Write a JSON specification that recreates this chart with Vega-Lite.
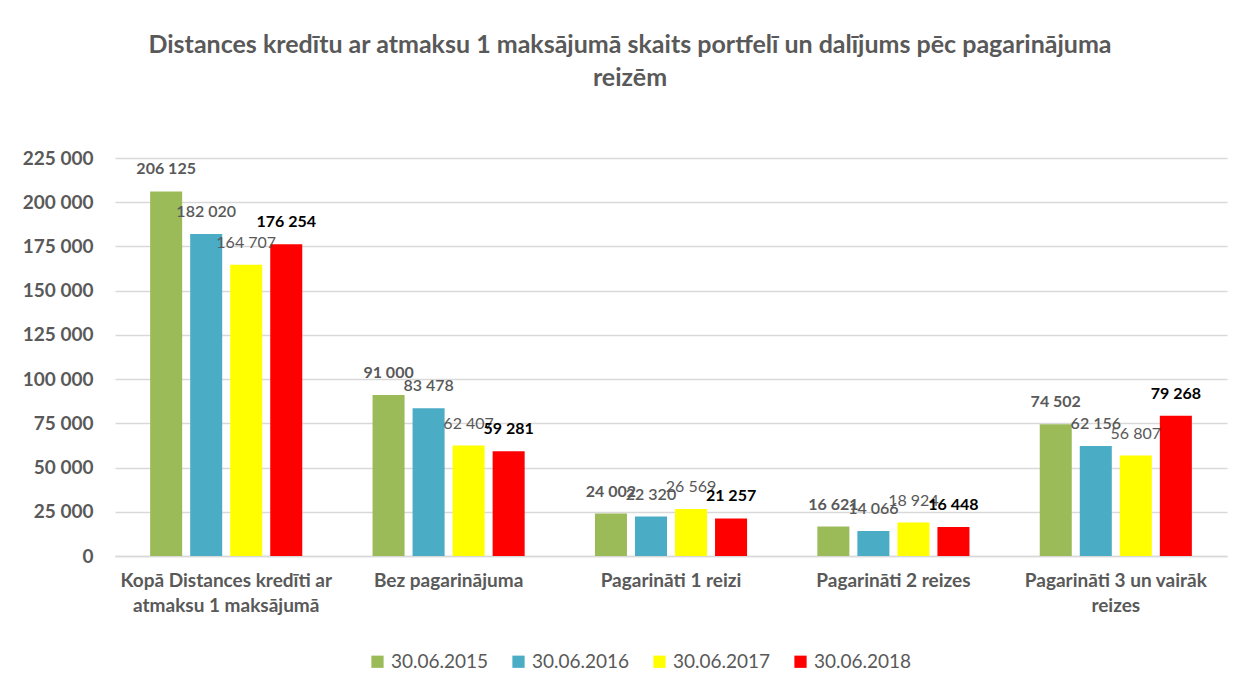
{
  "$schema": "https://vega.github.io/schema/vega-lite/v6.json",
  "width": 1112,
  "height": 398,
  "autosize": {"type": "none"},
  "padding": {"left": 115, "top": 158, "right": 23, "bottom": 135},
  "background": "white",
  "config": {"view": {"stroke": null}, "font": "Lato"},
  "title": {
    "text": ["Distances kredītu ar atmaksu 1 maksājumā skaits portfelī  un dalījums pēc pagarinājuma", "reizēm"],
    "font": "Lato", "fontSize": 25, "fontWeight": "bold", "color": "#595959",
    "lineHeight": 33, "offset": 58, "dx": -41, "anchor": "middle"
  },
  "data": {"values": [
    {"category": "Kopā Distances kredīti ar atmaksu 1 maksājumā", "series": "30.06.2015", "value": 206125},
    {"category": "Kopā Distances kredīti ar atmaksu 1 maksājumā", "series": "30.06.2016", "value": 182020},
    {"category": "Kopā Distances kredīti ar atmaksu 1 maksājumā", "series": "30.06.2017", "value": 164707},
    {"category": "Kopā Distances kredīti ar atmaksu 1 maksājumā", "series": "30.06.2018", "value": 176254},
    {"category": "Bez pagarinājuma", "series": "30.06.2015", "value": 91000},
    {"category": "Bez pagarinājuma", "series": "30.06.2016", "value": 83478},
    {"category": "Bez pagarinājuma", "series": "30.06.2017", "value": 62407},
    {"category": "Bez pagarinājuma", "series": "30.06.2018", "value": 59281},
    {"category": "Pagarināti 1 reizi", "series": "30.06.2015", "value": 24002},
    {"category": "Pagarināti 1 reizi", "series": "30.06.2016", "value": 22320},
    {"category": "Pagarināti 1 reizi", "series": "30.06.2017", "value": 26569},
    {"category": "Pagarināti 1 reizi", "series": "30.06.2018", "value": 21257},
    {"category": "Pagarināti 2 reizes", "series": "30.06.2015", "value": 16621},
    {"category": "Pagarināti 2 reizes", "series": "30.06.2016", "value": 14066},
    {"category": "Pagarināti 2 reizes", "series": "30.06.2017", "value": 18924},
    {"category": "Pagarināti 2 reizes", "series": "30.06.2018", "value": 16448},
    {"category": "Pagarināti 3 un vairāk reizes", "series": "30.06.2015", "value": 74502},
    {"category": "Pagarināti 3 un vairāk reizes", "series": "30.06.2016", "value": 62156},
    {"category": "Pagarināti 3 un vairāk reizes", "series": "30.06.2017", "value": 56807},
    {"category": "Pagarināti 3 un vairāk reizes", "series": "30.06.2018", "value": 79268}
  ]},
  "transform": [{"calculate": "replace(format(datum.value, ','), ',', ' ')", "as": "label"}],
  "encoding": {
    "x": {
      "field": "category", "type": "nominal",
      "scale": {
        "domain": ["Kopā Distances kredīti ar atmaksu 1 maksājumā", "Bez pagarinājuma", "Pagarināti 1 reizi", "Pagarināti 2 reizes", "Pagarināti 3 un vairāk reizes"],
        "paddingInner": 0.28, "paddingOuter": 0.14
      },
      "axis": {
        "title": null, "labelAngle": 0, "ticks": false,
        "domainColor": "#D9D9D9", "domainWidth": 1.5,
        "labelFont": "Lato", "labelFontSize": 19, "labelFontWeight": "bold", "labelColor": "#595959",
        "labelLineHeight": 25, "labelPadding": 15, "labelLimit": 400,
        "labelExpr": "datum.label == 'Kopā Distances kredīti ar atmaksu 1 maksājumā' ? ['Kopā Distances kredīti ar', 'atmaksu 1 maksājumā'] : datum.label == 'Pagarināti 3 un vairāk reizes' ? ['Pagarināti 3 un vairāk', 'reizes'] : datum.label"
      }
    },
    "xOffset": {
      "field": "series", "type": "nominal",
      "scale": {"domain": ["30.06.2015", "30.06.2016", "30.06.2017", "30.06.2018"], "paddingInner": 0.2, "paddingOuter": 0.1}
    },
    "y": {
      "field": "value", "type": "quantitative",
      "scale": {"domain": [0, 225000], "nice": false},
      "axis": {
        "title": null, "values": [0, 25000, 50000, 75000, 100000, 125000, 150000, 175000, 200000, 225000],
        "labelExpr": "replace(format(datum.value, ','), ',', ' ')",
        "domain": false, "ticks": false,
        "gridColor": "#D9D9D9", "gridWidth": 1.5,
        "labelFont": "Lato", "labelFontSize": 19, "labelFontWeight": "bold", "labelColor": "#595959",
        "labelPadding": 22
      }
    }
  },
  "layer": [
    {
      "mark": {"type": "bar"},
      "encoding": {
        "color": {
          "field": "series", "type": "nominal",
          "scale": {"domain": ["30.06.2015", "30.06.2016", "30.06.2017", "30.06.2018"], "range": ["#9BBB59", "#4BACC6", "#FFFF00", "#FF0000"]},
          "legend": {
            "title": null, "orient": "none", "direction": "horizontal",
            "legendX": 253, "legendY": 494,
            "symbolType": "square", "symbolSize": 150, "symbolStrokeWidth": 0,
            "labelFont": "Lato", "labelFontSize": 19, "labelColor": "#595959",
            "labelOffset": 4, "columnPadding": 20
          }
        }
      }
    },
    {
      "transform": [{"filter": "datum.series == '30.06.2015'"}],
      "mark": {"type": "text", "baseline": "middle", "dy": -22, "font": "Lato", "fontSize": 16, "fontWeight": "bold", "color": "#595959"},
      "encoding": {"text": {"field": "label"}}
    },
    {
      "transform": [{"filter": "datum.series == '30.06.2016'"}],
      "mark": {"type": "text", "baseline": "middle", "dy": -22, "font": "Lato", "fontSize": 16, "fontWeight": 600, "color": "#595959"},
      "encoding": {"text": {"field": "label"}}
    },
    {
      "transform": [{"filter": "datum.series == '30.06.2017'"}],
      "mark": {"type": "text", "baseline": "middle", "dy": -22, "font": "Lato", "fontSize": 16, "fontWeight": "normal", "color": "#595959"},
      "encoding": {"text": {"field": "label"}}
    },
    {
      "transform": [{"filter": "datum.series == '30.06.2018'"}],
      "mark": {"type": "text", "baseline": "middle", "dy": -22, "font": "Lato", "fontSize": 16, "fontWeight": "bold", "color": "#000000"},
      "encoding": {"text": {"field": "label"}}
    }
  ]
}
